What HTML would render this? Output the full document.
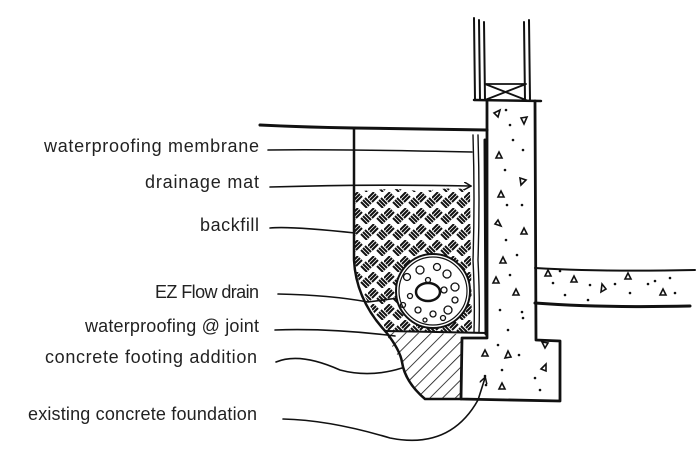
<!DOCTYPE html>
<html><head><meta charset="utf-8"><style>
html,body{margin:0;padding:0;background:#fff;}
svg{display:block}
text{font-family:"Liberation Sans",sans-serif;font-size:18px;fill:#222;}
</style></head><body>
<svg width="700" height="457" viewBox="0 0 700 457" xmlns="http://www.w3.org/2000/svg">
<defs>
<pattern id="bw" width="16" height="16" patternUnits="userSpaceOnUse">
<g stroke="#111" stroke-width="2" fill="none">
<path d="M0 6 L6 0 M2 8 L8 2 M4 10 L10 4"/>
<path d="M9 10 L15 16 M11 8 L17 14 M13 6 L19 12"/>
<path d="M-7 10 L-1 16 M-5 8 L1 14 M-3 6 L3 12"/>
</g>
</pattern>
<pattern id="diag" width="9" height="9" patternUnits="userSpaceOnUse" patternTransform="rotate(45)">
<line x1="0" y1="0" x2="0" y2="9" stroke="#111" stroke-width="1.6"/>
</pattern>
<marker id="ah" markerWidth="8" markerHeight="8" refX="6" refY="4" orient="auto" markerUnits="userSpaceOnUse">
<path d="M0 0 L7 4 L0 8" fill="none" stroke="#111" stroke-width="1.5"/>
</marker>
</defs>

<text x="259" y="152" text-anchor="end" textLength="215">waterproofing membrane</text>
<text x="259" y="188" text-anchor="end" textLength="114">drainage mat</text>
<text x="259" y="231" text-anchor="end" textLength="59">backfill</text>
<text x="259" y="298" text-anchor="end" textLength="104">EZ Flow drain</text>
<text x="259" y="332" text-anchor="end" textLength="174">waterproofing @ joint</text>
<text x="257" y="363" text-anchor="end" textLength="212">concrete footing addition</text>
<text x="257" y="420" text-anchor="end" textLength="229">existing concrete foundation</text>

<g fill="none" stroke="#111" stroke-linecap="round" stroke-linejoin="round">
<path d="M260 125 Q300 127 354 128 L487 130" stroke-width="3"/>
<path d="M268 150 Q330 149 472 152" stroke-width="1.6"/>
<path d="M270 187 Q380 184 470 186" stroke-width="1.6" marker-end="url(#ah)"/>
<path d="M270 228 Q290 226 355 233" stroke-width="1.6"/>
<path d="M278 294 Q330 295 368 302 L398 298" stroke-width="1.6"/>
<path d="M275 330 Q330 328 395 336" stroke-width="1.6"/>
<path d="M276 362 Q300 352 340 370 Q370 378 402 368" stroke-width="1.6"/>
<path d="M283 419 Q330 420 390 438 Q450 450 478 400 L485 378" stroke-width="1.6" marker-end="url(#ah)"/>

<path d="M474 18 L475 100 M479 20 L480 100 M484 22 L485 100" stroke-width="2"/>
<path d="M524 22 L525 100 M529 20 L530 100" stroke-width="2"/>
<path d="M485 84 L526 84 M485 84 L526 100 M526 84 L485 100" stroke-width="1.8"/>
<path d="M474 100 L541 101" stroke-width="2.5"/>

<path d="M354 192 Q400 186 420 192 Q450 186 470 190 L472 332 L388 332 Q362 300 356 270 Q352 230 354 192 Z" fill="url(#bw)" stroke="none"/>
<path d="M354 128 L354 260 Q356 300 386 332" stroke-width="2.5"/>
<path d="M386 332 L462 334 L461 398 L425 399 Q405 380 402 362 Q390 345 386 332 Z" fill="url(#diag)" stroke="none"/>
<path d="M386 332 Q400 350 402 362 Q405 382 425 399 L461 399" stroke-width="2.5"/>
<path d="M386 331 L487 333" stroke-width="2"/>

<circle cx="433" cy="291" r="37" fill="#fff" stroke-width="2"/>
<circle cx="433" cy="291" r="34" stroke-width="1.2"/>
<ellipse cx="428" cy="292" rx="12" ry="9" stroke-width="2.5" fill="#fff"/>
<g stroke-width="1.3">
<circle cx="420" cy="270" r="4"/><circle cx="437" cy="267" r="3.5"/><circle cx="447" cy="274" r="4"/>
<circle cx="455" cy="287" r="4"/><circle cx="455" cy="300" r="3"/><circle cx="448" cy="310" r="4"/>
<circle cx="407" cy="277" r="3.5"/><circle cx="410" cy="296" r="2.5"/><circle cx="418" cy="310" r="3"/>
<circle cx="433" cy="314" r="3"/><circle cx="443" cy="318" r="2.5"/><circle cx="428" cy="280" r="2.5"/>
<circle cx="444" cy="290" r="3"/><circle cx="403" cy="305" r="2.5"/><circle cx="425" cy="320" r="2"/>
</g>

<path d="M473 135 Q475 200 473 260 Q475 300 474 332" stroke-width="1.4"/>
<path d="M478 135 Q480 200 478 260 Q480 300 479 332" stroke-width="1.4"/>
<path d="M485 140 L486 334" stroke-width="3"/>

<path d="M487 101 L487 338 L462 338 L461 399 L560 401 L560 341 L536 340 L535 101" stroke-width="2.8"/>
<path d="M535 268 Q600 272 695 270" stroke-width="2"/>
<path d="M535 303 Q600 308 690 306" stroke-width="3"/>
</g>

<g fill="none" stroke="#111" stroke-width="1.6">
<path d="M494 113 l6 -3 l-2 7 z"/><path d="M521 118 l6 -1 l-3 7 z"/>
<path d="M496 158 l6 0 l-3 -6 z"/><path d="M520 178 l6 2 l-5 5 z"/>
<path d="M498 197 l6 0 l-3 -6 z"/><path d="M521 234 l6 0 l-3 -6 z"/>
<path d="M500 263 l6 0 l-3 -6 z"/><path d="M513 295 l6 0 l-3 -6 z"/>
<path d="M505 358 l6 -1 l-3 -6 z"/><path d="M482 356 l6 0 l-3 -6 z"/>
<path d="M499 389 l6 0 l-3 -6 z"/><path d="M541 369 l5 -5 l0 7 z"/>
<path d="M545 276 l6 0 l-3 -6 z"/><path d="M571 282 l6 0 l-3 -6 z"/>
<path d="M601 292 l5 -3 l-4 -5 z"/><path d="M625 279 l6 0 l-3 -6 z"/>
<path d="M660 295 l6 0 l-3 -6 z"/><path d="M542 342 l6 1 l-3 5 z"/>
<path d="M495 224 l6 2 l-3 -6 z"/><path d="M493 283 l6 0 l-3 -6 z"/>
</g>
<g fill="#111">
<circle cx="506" cy="110" r="1.3"/><circle cx="510" cy="125" r="1.3"/><circle cx="513" cy="140" r="1.3"/>
<circle cx="505" cy="170" r="1.3"/><circle cx="523" cy="150" r="1.3"/><circle cx="507" cy="205" r="1.3"/>
<circle cx="522" cy="205" r="1.3"/><circle cx="506" cy="240" r="1.3"/><circle cx="517" cy="255" r="1.3"/>
<circle cx="510" cy="275" r="1.3"/><circle cx="500" cy="310" r="1.3"/><circle cx="522" cy="312" r="1.3"/>
<circle cx="523" cy="318" r="1.3"/><circle cx="508" cy="330" r="1.3"/><circle cx="498" cy="345" r="1.3"/>
<circle cx="519" cy="355" r="1.3"/><circle cx="485" cy="376" r="1.3"/><circle cx="502" cy="370" r="1.3"/>
<circle cx="486" cy="385" r="1.3"/><circle cx="540" cy="390" r="1.3"/><circle cx="535" cy="378" r="1.3"/>
<circle cx="560" cy="271" r="1.3"/><circle cx="553" cy="283" r="1.3"/><circle cx="565" cy="295" r="1.3"/>
<circle cx="590" cy="285" r="1.3"/><circle cx="615" cy="284" r="1.3"/><circle cx="630" cy="293" r="1.3"/>
<circle cx="648" cy="284" r="1.3"/><circle cx="655" cy="281" r="1.3"/><circle cx="670" cy="278" r="1.3"/>
<circle cx="675" cy="293" r="1.3"/><circle cx="588" cy="300" r="1.3"/>
</g>
</svg>
</body></html>
